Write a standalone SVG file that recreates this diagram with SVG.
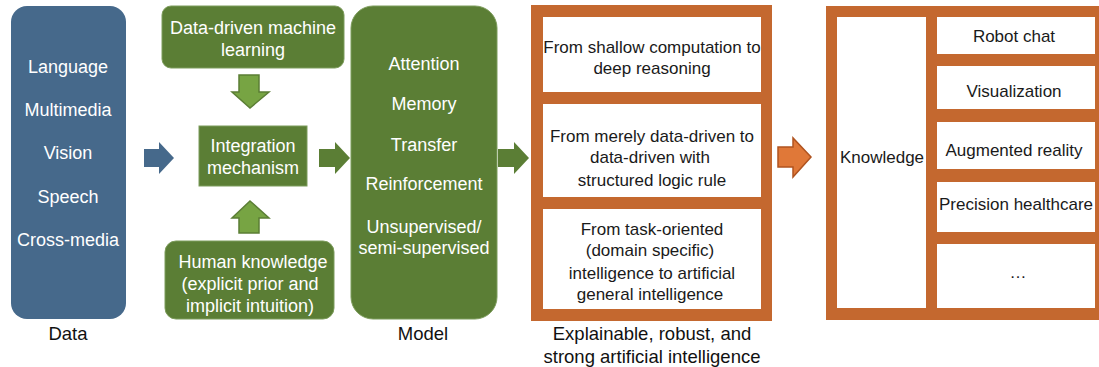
<svg xmlns="http://www.w3.org/2000/svg" width="1099" height="367" viewBox="0 0 1099 367">
<style>
text{font-family:"Liberation Sans",Arial,sans-serif;text-anchor:middle;dominant-baseline:central}
.w{fill:#fff;font-size:18px}
.k{fill:#1a1a1a;font-size:17px}
.cap{fill:#111;font-size:18.5px}
.blue{fill:#46698b}
.green{fill:#5b7e35;stroke:#7d9c5c;stroke-width:1}
.lg{fill:#77a443;stroke:#5b7e35;stroke-width:1.5}
.or{fill:#c4682f}
.wb{fill:#fff}
</style>
<rect width="1099" height="367" fill="#fff"/>
<g id="data">
<rect class="blue" x="11" y="6" width="115" height="313" rx="16"/>
<text class="w" x="68" y="67">Language</text>
<text class="w" x="68" y="110">Multimedia</text>
<text class="w" x="68" y="153">Vision</text>
<text class="w" x="68" y="197">Speech</text>
<text class="w" x="68" y="240">Cross-media</text>
<text class="cap" x="68" y="333">Data</text>
</g>
<g id="ddml">
<rect class="green" x="162" y="6" width="182" height="62" rx="9"/>
<text class="w" x="253" y="28">Data-driven machine</text>
<text class="w" x="253" y="50">learning</text>
</g>
<g id="integration">
<rect class="green" x="199" y="126" width="108" height="60"/>
<text class="w" x="253" y="146">Integration</text>
<text class="w" x="253" y="168">mechanism</text>
</g>
<g id="human">
<rect class="green" x="165" y="241" width="169" height="78" rx="11"/>
<text class="w" x="253" y="262">Human knowledge</text>
<text class="w" x="250" y="284">(explicit prior and</text>
<text class="w" x="250" y="306">implicit intuition)</text>
</g>
<g id="model">
<rect class="green" x="351" y="6" width="146" height="313" rx="22"/>
<text class="w" x="424" y="64">Attention</text>
<text class="w" x="424" y="104">Memory</text>
<text class="w" x="424" y="145">Transfer</text>
<text class="w" x="424" y="184">Reinforcement</text>
<text class="w" x="424" y="227">Unsupervised/</text>
<text class="w" x="424" y="248">semi-supervised</text>
<text class="cap" x="423" y="333">Model</text>
</g>
<g id="strongai">
<rect class="or" x="531" y="5" width="241" height="316"/>
<rect class="wb" x="543" y="17" width="218" height="75"/>
<rect class="wb" x="543" y="104" width="218" height="93"/>
<rect class="wb" x="543" y="209" width="218" height="100"/>
<text class="k" x="652" y="47">From shallow computation to</text>
<text class="k" x="652" y="68">deep reasoning</text>
<text class="k" x="652" y="136">From merely data-driven to</text>
<text class="k" x="650" y="157">data-driven with</text>
<text class="k" x="652" y="180">structured logic rule</text>
<text class="k" x="652" y="229">From task-oriented</text>
<text class="k" x="650" y="250">(domain specific)</text>
<text class="k" x="652" y="273">intelligence to artificial</text>
<text class="k" x="650" y="294">general intelligence</text>
<text class="cap" x="652" y="333">Explainable, robust, and</text>
<text class="cap" x="652" y="356">strong artificial intelligence</text>
</g>
<g id="applications">
<rect class="or" x="826" y="6" width="273" height="314"/>
<rect class="wb" x="837" y="17" width="89" height="291"/>
<rect class="wb" x="937" y="17" width="158" height="37"/>
<rect class="wb" x="937" y="66" width="158" height="43"/>
<rect class="wb" x="937" y="122" width="158" height="47"/>
<rect class="wb" x="937" y="182" width="158" height="50"/>
<rect class="wb" x="937" y="244" width="158" height="64"/>
<text class="k" x="882" y="157">Knowledge</text>
<text class="k" x="1014" y="36">Robot chat</text>
<text class="k" x="1014" y="91">Visualization</text>
<text class="k" x="1014" y="150">Augmented reality</text>
<text class="k" x="1016" y="204">Precision healthcare</text>
<text class="k" x="1018" y="272">…</text>
</g>
<g id="connectors">
<polygon class="blue" points="144,149 159,149 159,142 174,158 159,174 159,167 144,167"/>
<polygon class="lg" points="239,75 259,75 259,92 269,92 250,108 232,92 239,92"/>
<polygon class="lg" points="250,201 269,218 259,218 259,233 239,233 239,218 232,218"/>
<polygon fill="#5b7e35" points="319,149 335,149 335,142 350,158 335,174 335,167 319,167"/>
<polygon fill="#5b7e35" points="498,149 514,149 514,142 529,158 514,174 514,167 498,167"/>
<polygon fill="#e07838" stroke="#b0531f" stroke-width="1.5" points="778,147 793,147 793,138 811,157 793,177 793,167 778,167"/>
</g>
</svg>
